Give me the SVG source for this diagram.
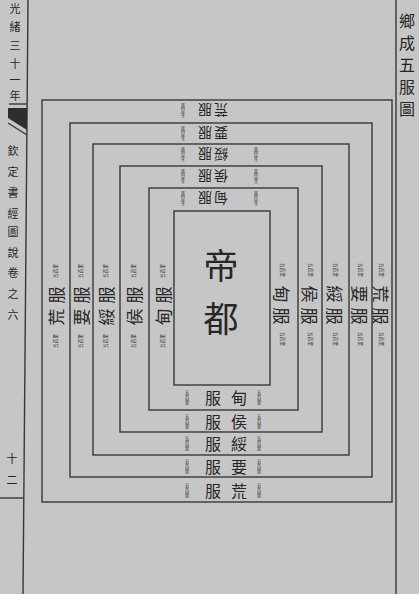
<svg xmlns="http://www.w3.org/2000/svg" width="419" height="594" viewBox="0 0 419 594">
<defs>
<style>
.ln{fill:none;stroke:#383838;stroke-width:1.4}
.tx{font-family:"Noto Sans CJK TC","Noto Sans CJK SC",sans-serif;fill:#262626;text-anchor:middle;dominant-baseline:central}
.lr{font-size:17px}
.lt{font-size:14px}
.lb{font-size:16px}
.an{font-size:4.6px}
.cap{font-size:35px}
.ttl{font-size:16px}
.mg{font-size:11px}
.mg2{font-size:11px}
</style>
</defs>
<rect x="0" y="0" width="419" height="594" fill="#c6c6c6"/>

<g id="page-frame">
<line class="ln" x1="28" y1="0" x2="23" y2="594"/>
<line class="ln" x1="396" y1="0" x2="396" y2="594"/>
<line class="ln" x1="0" y1="498" x2="23" y2="498"/>
<line class="ln" x1="9" y1="104" x2="27" y2="104"/>
<polygon points="8,108 27,108 27,130 8,118" fill="#2e2e2e"/>
<line class="ln" x1="8" y1="123" x2="27" y2="135"/>
<text class="tx mg"><tspan x="15" y="8">光</tspan><tspan x="15" y="26">緒</tspan><tspan x="15" y="45">三</tspan><tspan x="15" y="63">十</tspan><tspan x="15" y="79">一</tspan><tspan x="15" y="95">年</tspan></text>
<text class="tx mg2"><tspan x="13" y="150">欽</tspan><tspan x="13" y="171">定</tspan><tspan x="13" y="192">書</tspan><tspan x="13" y="213">經</tspan><tspan x="13" y="231">圖</tspan><tspan x="13" y="252">說</tspan><tspan x="13" y="272">卷</tspan><tspan x="13" y="293">之</tspan><tspan x="13" y="314">六</tspan></text>
<text class="tx mg"><tspan x="12" y="458">十</tspan><tspan x="12" y="479">二</tspan></text>
</g>

<g id="title">
<text class="tx ttl"><tspan x="407" y="20">鄉</tspan><tspan x="407" y="42">成</tspan><tspan x="407" y="64">五</tspan><tspan x="407" y="86">服</tspan><tspan x="407" y="108">圖</tspan></text>
</g>

<g id="zone-huang">
<rect class="ln" x="42" y="100" width="350" height="402"/>
<text class="tx lr" transform="translate(55,306) rotate(-90)"><tspan x="-11">荒</tspan><tspan x="11">服</tspan></text>
<text class="tx an" transform="translate(55,271) rotate(-90)">五百里</text>
<text class="tx an" transform="translate(55,341) rotate(-90)">五百里</text>
<text class="tx lr" transform="translate(382,305) rotate(90)"><tspan x="-11">荒</tspan><tspan x="11">服</tspan></text>
<text class="tx an" transform="translate(382,270) rotate(90)">五百里</text>
<text class="tx an" transform="translate(382,339) rotate(90)">五百里</text>
<text class="tx lt" transform="translate(213,111) rotate(180)"><tspan x="-8">荒</tspan><tspan x="8">服</tspan></text>
<text class="tx an" transform="translate(183,111) rotate(180)"><tspan x="0" y="-5">五</tspan><tspan x="0" y="0">百</tspan><tspan x="0" y="5">里</tspan></text>
<text class="tx lb"><tspan x="213" y="490">服</tspan><tspan x="239" y="490">荒</tspan></text>
<text class="tx an"><tspan x="187" y="485">五</tspan><tspan x="187" y="490">百</tspan><tspan x="187" y="495">里</tspan></text>
<text class="tx an"><tspan x="259" y="485">五</tspan><tspan x="259" y="490">百</tspan><tspan x="259" y="495">里</tspan></text>
</g>

<g id="zone-yao">
<rect class="ln" x="70" y="123" width="302" height="354"/>
<text class="tx lr" transform="translate(80,306) rotate(-90)"><tspan x="-11">要</tspan><tspan x="11">服</tspan></text>
<text class="tx an" transform="translate(80,271) rotate(-90)">五百里</text>
<text class="tx an" transform="translate(80,341) rotate(-90)">五百里</text>
<text class="tx lr" transform="translate(361,305) rotate(90)"><tspan x="-11">要</tspan><tspan x="11">服</tspan></text>
<text class="tx an" transform="translate(361,270) rotate(90)">五百里</text>
<text class="tx an" transform="translate(361,339) rotate(90)">五百里</text>
<text class="tx lt" transform="translate(213,134) rotate(180)"><tspan x="-8">要</tspan><tspan x="8">服</tspan></text>
<text class="tx an" transform="translate(183,134) rotate(180)"><tspan x="0" y="-5">五</tspan><tspan x="0" y="0">百</tspan><tspan x="0" y="5">里</tspan></text>
<text class="tx lb"><tspan x="213" y="466">服</tspan><tspan x="239" y="466">要</tspan></text>
<text class="tx an"><tspan x="187" y="461">五</tspan><tspan x="187" y="466">百</tspan><tspan x="187" y="471">里</tspan></text>
<text class="tx an"><tspan x="259" y="461">五</tspan><tspan x="259" y="466">百</tspan><tspan x="259" y="471">里</tspan></text>
</g>

<g id="zone-sui">
<rect class="ln" x="93" y="144" width="256" height="311"/>
<text class="tx lr" transform="translate(105,306) rotate(-90)"><tspan x="-11">綏</tspan><tspan x="11">服</tspan></text>
<text class="tx an" transform="translate(105,271) rotate(-90)">五百里</text>
<text class="tx an" transform="translate(105,341) rotate(-90)">五百里</text>
<text class="tx lr" transform="translate(336,305) rotate(90)"><tspan x="-11">綏</tspan><tspan x="11">服</tspan></text>
<text class="tx an" transform="translate(336,270) rotate(90)">五百里</text>
<text class="tx an" transform="translate(336,339) rotate(90)">五百里</text>
<text class="tx lt" transform="translate(213,155) rotate(180)"><tspan x="-8">綏</tspan><tspan x="8">服</tspan></text>
<text class="tx an" transform="translate(183,155) rotate(180)"><tspan x="0" y="-5">五</tspan><tspan x="0" y="0">百</tspan><tspan x="0" y="5">里</tspan></text>
<text class="tx an" transform="translate(256,155) rotate(180)"><tspan x="0" y="-5">五</tspan><tspan x="0" y="0">百</tspan><tspan x="0" y="5">里</tspan></text>
<text class="tx lb"><tspan x="213" y="443">服</tspan><tspan x="239" y="443">綏</tspan></text>
<text class="tx an"><tspan x="187" y="438">五</tspan><tspan x="187" y="443">百</tspan><tspan x="187" y="448">里</tspan></text>
<text class="tx an"><tspan x="259" y="438">五</tspan><tspan x="259" y="443">百</tspan><tspan x="259" y="448">里</tspan></text>
</g>

<g id="zone-hou">
<rect class="ln" x="120" y="166" width="202" height="266"/>
<text class="tx lr" transform="translate(133,306) rotate(-90)"><tspan x="-11">侯</tspan><tspan x="11">服</tspan></text>
<text class="tx an" transform="translate(133,271) rotate(-90)">五百里</text>
<text class="tx an" transform="translate(133,341) rotate(-90)">五百里</text>
<text class="tx lr" transform="translate(311,305) rotate(90)"><tspan x="-11">侯</tspan><tspan x="11">服</tspan></text>
<text class="tx an" transform="translate(311,270) rotate(90)">五百里</text>
<text class="tx an" transform="translate(311,339) rotate(90)">五百里</text>
<text class="tx lt" transform="translate(213,177) rotate(180)"><tspan x="-8">侯</tspan><tspan x="8">服</tspan></text>
<text class="tx an" transform="translate(183,177) rotate(180)"><tspan x="0" y="-5">五</tspan><tspan x="0" y="0">百</tspan><tspan x="0" y="5">里</tspan></text>
<text class="tx an" transform="translate(256,177) rotate(180)"><tspan x="0" y="-5">五</tspan><tspan x="0" y="0">百</tspan><tspan x="0" y="5">里</tspan></text>
<text class="tx lb"><tspan x="213" y="421">服</tspan><tspan x="239" y="421">侯</tspan></text>
<text class="tx an"><tspan x="187" y="416">五</tspan><tspan x="187" y="421">百</tspan><tspan x="187" y="426">里</tspan></text>
<text class="tx an"><tspan x="259" y="416">五</tspan><tspan x="259" y="421">百</tspan><tspan x="259" y="426">里</tspan></text>
</g>

<g id="zone-dian">
<rect class="ln" x="149" y="188" width="149" height="222"/>
<text class="tx lr" transform="translate(162,306) rotate(-90)"><tspan x="-11">甸</tspan><tspan x="11">服</tspan></text>
<text class="tx an" transform="translate(162,271) rotate(-90)">五百里</text>
<text class="tx an" transform="translate(162,341) rotate(-90)">五百里</text>
<text class="tx lr" transform="translate(283,305) rotate(90)"><tspan x="-11">甸</tspan><tspan x="11">服</tspan></text>
<text class="tx an" transform="translate(283,270) rotate(90)">五百里</text>
<text class="tx an" transform="translate(283,339) rotate(90)">五百里</text>
<text class="tx lt" transform="translate(213,199) rotate(180)"><tspan x="-8">甸</tspan><tspan x="8">服</tspan></text>
<text class="tx an" transform="translate(183,199) rotate(180)"><tspan x="0" y="-5">五</tspan><tspan x="0" y="0">百</tspan><tspan x="0" y="5">里</tspan></text>
<text class="tx an" transform="translate(256,199) rotate(180)"><tspan x="0" y="-5">五</tspan><tspan x="0" y="0">百</tspan><tspan x="0" y="5">里</tspan></text>
<text class="tx lb"><tspan x="213" y="397">服</tspan><tspan x="239" y="397">甸</tspan></text>
<text class="tx an"><tspan x="187" y="392">五</tspan><tspan x="187" y="397">百</tspan><tspan x="187" y="402">里</tspan></text>
<text class="tx an"><tspan x="259" y="392">五</tspan><tspan x="259" y="397">百</tspan><tspan x="259" y="402">里</tspan></text>
</g>

<g id="capital">
<rect class="ln" x="174" y="211" width="96" height="174"/>
<text class="tx cap"><tspan x="221" y="263">帝</tspan><tspan x="221" y="316">都</tspan></text>
</g>
</svg>
